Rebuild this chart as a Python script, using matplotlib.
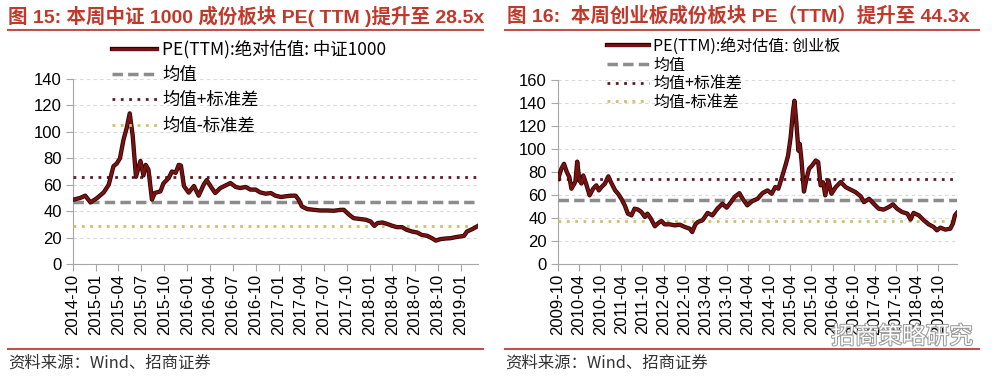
import matplotlib
matplotlib.use('Agg')
import matplotlib.pyplot as plt
import matplotlib.dates as mdates
import matplotlib.patheffects as pe
from matplotlib.lines import Line2D
import pandas as pd

plt.rcParams['font.family'] = ['Liberation Sans', 'Noto Sans CJK SC', 'DejaVu Sans']

# 中证1000 PE(TTM)
csi_dates = ['2014-10-03', '2014-10-30', '2014-11-19', '2014-12-10', '2015-01-06', '2015-02-01',
             '2015-02-21', '2015-03-12', '2015-03-25', '2015-04-07', '2015-04-21', '2015-05-04',
             '2015-05-16', '2015-05-28', '2015-06-10', '2015-06-28', '2015-07-10', '2015-07-19',
             '2015-07-30', '2015-08-13', '2015-08-25', '2015-09-16', '2015-09-28', '2015-10-19',
             '2015-11-01', '2015-11-16', '2015-11-28', '2015-12-07', '2015-12-19', '2016-01-07',
             '2016-01-28', '2016-02-16', '2016-03-07', '2016-03-19', '2016-04-04', '2016-04-22',
             '2016-05-13', '2016-06-01', '2016-06-22', '2016-07-13', '2016-08-01', '2016-08-22',
             '2016-09-10', '2016-10-01', '2016-10-19', '2016-11-10', '2016-12-01', '2016-12-19',
             '2017-01-10', '2017-01-28', '2017-02-19', '2017-03-10', '2017-03-22', '2017-04-04',
             '2017-04-25', '2017-05-22', '2017-06-16', '2017-07-13', '2017-08-10', '2017-09-07',
             '2017-09-19', '2017-10-10', '2017-10-28', '2017-11-25', '2017-12-16', '2018-01-04',
             '2018-01-19', '2018-02-01', '2018-02-21', '2018-03-10', '2018-04-01', '2018-04-19',
             '2018-05-10', '2018-05-28', '2018-06-19', '2018-07-10', '2018-07-28', '2018-08-19',
             '2018-09-07', '2018-09-22', '2018-10-10', '2018-11-01', '2018-11-19', '2018-12-10',
             '2018-12-28', '2019-01-13', '2019-01-25', '2019-02-15', '2019-03-07']
csi_pe = [48.7, 50.0, 51.7, 46.6, 50.0, 54.2,
          60.0, 74.0, 76.0, 80.0, 94.0, 103.0,
          114.0, 97.0, 66.0, 78.0, 67.0, 75.0,
          71.5, 48.7, 53.8, 55.0, 61.0, 65.0,
          70.0, 69.0, 75.0, 74.5, 59.0, 54.0,
          59.0, 51.7, 60.0, 63.5, 58.8, 53.7,
          57.5, 59.3, 61.3, 58.3, 57.5, 58.3,
          56.3, 56.3, 54.2, 53.2, 53.7, 51.7,
          50.7, 51.2, 51.7, 51.7, 48.7, 43.6,
          41.6, 41.0, 40.5, 40.5, 40.3, 41.0,
          41.0, 37.3, 34.7, 34.0, 33.5, 32.2,
          28.9, 31.0, 31.4, 30.4, 28.9, 27.9,
          27.9, 25.9, 24.6, 23.8, 22.0, 21.3,
          19.5, 17.7, 18.8, 19.3, 19.5, 20.3,
          20.8, 21.3, 24.6, 26.4, 28.5]
csi_mean, csi_up, csi_down = 46.6, 65.8, 28.4

# 创业板 PE(TTM)
gem_dates = ['2009-10-02', '2009-10-30', '2009-11-22', '2009-12-16', '2010-01-07', '2010-01-25',
             '2010-02-19', '2010-03-01', '2010-03-16', '2010-04-04', '2010-04-22', '2010-05-07',
             '2010-06-01', '2010-07-01', '2010-08-01', '2010-08-28', '2010-09-19', '2010-10-13',
             '2010-11-10', '2010-12-10', '2011-01-01', '2011-02-07', '2011-03-04', '2011-04-01',
             '2011-05-01', '2011-05-28', '2011-06-28', '2011-07-25', '2011-08-25', '2011-09-22',
             '2011-10-22', '2011-11-13', '2011-12-13', '2012-01-16', '2012-02-15', '2012-03-13',
             '2012-04-10', '2012-05-22', '2012-07-07', '2012-08-19', '2012-10-01', '2012-11-13',
             '2012-12-04', '2013-01-01', '2013-01-22', '2013-03-04', '2013-04-16', '2013-05-28',
             '2013-07-10', '2013-08-22', '2013-09-28', '2013-11-04', '2013-12-04', '2014-01-16',
             '2014-02-13', '2014-03-25', '2014-05-07', '2014-06-22', '2014-08-04', '2014-09-16',
             '2014-10-22', '2014-11-22', '2014-12-19', '2015-01-19', '2015-02-22', '2015-03-13',
             '2015-04-04', '2015-04-25', '2015-05-07', '2015-05-22', '2015-06-10', '2015-06-22',
             '2015-07-07', '2015-07-28', '2015-08-16', '2015-09-10', '2015-10-07', '2015-11-07',
             '2015-11-28', '2015-12-19', '2016-01-10', '2016-01-28', '2016-02-25', '2016-03-22',
             '2016-04-28', '2016-06-10', '2016-07-22', '2016-09-04', '2016-10-16', '2016-12-01',
             '2016-12-28', '2017-02-10', '2017-03-22', '2017-05-04', '2017-06-16', '2017-08-01',
             '2017-09-04', '2017-10-10', '2017-11-22', '2018-01-07', '2018-02-04', '2018-03-01',
             '2018-04-16', '2018-05-28', '2018-07-10', '2018-08-22', '2018-09-19', '2018-10-19',
             '2018-12-01', '2019-01-13', '2019-02-04', '2019-02-22', '2019-03-10']
gem_pe = [74.0, 82.8, 87.1, 80.0, 75.6, 65.5,
          69.8, 72.0, 89.0, 72.7, 70.0, 77.0,
          69.8, 59.7, 65.5, 68.4, 64.0, 67.0,
          69.8, 76.2, 71.3, 64.0, 61.1, 56.8,
          51.0, 43.8, 42.3, 48.1, 47.3, 45.2,
          40.9, 43.8, 39.4, 32.8, 35.6, 37.4,
          34.5, 34.5, 33.6, 34.2, 32.2, 30.7,
          27.8, 34.5, 36.5, 38.1, 44.4, 42.3,
          48.1, 52.4, 49.0, 53.8, 58.2, 61.6,
          56.7, 51.0, 54.7, 56.7, 61.6, 64.0,
          61.1, 66.9, 65.5, 75.6, 87.1, 94.3,
          110.2, 133.3, 142.0, 124.6, 98.6, 104.4,
          90.0, 63.0, 72.7, 82.8, 85.7, 90.0,
          88.6, 68.4, 71.0, 59.7, 72.7, 61.1,
          66.9, 71.3, 66.9, 64.6, 62.5, 58.7,
          53.8, 56.7, 52.4, 48.1, 47.3, 49.6,
          51.9, 48.1, 45.2, 43.8, 38.7, 44.4,
          42.3, 38.1, 34.5, 32.2, 29.3, 31.6,
          29.9, 30.7, 35.0, 42.3, 44.3]
gem_mean, gem_up, gem_down = 55.4, 74.2, 37.2

W, H = 1006, 383
fig = plt.figure(figsize=(W / 100, H / 100), dpi=100)
red = '#C0392B'
cjk = ['Noto Sans CJK SC', 'DejaVu Sans']


def draw(ax, dates, vals, mean, up, down, name, x0, x1, step, ymax, leg_anchor, leg_fs, leg_sp):
    x = pd.to_datetime(dates)
    ax.plot(x, vals, color='#7a1212', lw=1.9, zorder=5, label='PE(TTM):绝对估值: ' + name,
            path_effects=[pe.Stroke(linewidth=3.1, foreground='#2a0404'), pe.Normal()])
    ax.axhline(mean, color='#8c8c8c', lw=2.5, ls=(0, (3, 1.5)), label='均值', zorder=3)
    ax.axhline(up, color='#5a1a28', lw=2.0, ls=(0, (1, 2)), label='均值+标准差', zorder=3)
    ax.axhline(down, color='#c9c36a', lw=2.0, ls=(0, (1, 2)), label='均值-标准差', zorder=3)

    ax.set_xlim(pd.Timestamp(x0), pd.Timestamp(x1))
    ax.set_ylim(0, ymax)
    ax.set_yticks(range(0, ymax + 1, 20))
    ax.xaxis.set_major_locator(mdates.MonthLocator(bymonth=step))
    ax.xaxis.set_major_formatter(mdates.DateFormatter('%Y-%m'))
    ax.tick_params(axis='x', labelrotation=90, labelsize=12, length=5, color='#a6a6a6', pad=2)
    ax.tick_params(axis='y', labelsize=12, length=5, color='#a6a6a6', pad=3)
    for s in ('top', 'right'):
        ax.spines[s].set_visible(False)
    for s in ('left', 'bottom'):
        ax.spines[s].set_color('#a6a6a6')
    ax.yaxis.grid(True, color='#d9d9d9', ls=(0, (3, 3)), lw=0.8)
    ax.set_axisbelow(True)
    ax.legend(loc='upper left', bbox_to_anchor=leg_anchor, frameon=False,
              prop={'family': cjk, 'size': leg_fs}, labelspacing=leg_sp,
              handlelength=2.6, handletextpad=0.3, borderpad=0, borderaxespad=0)


ax1 = fig.add_axes([73 / W, 1 - 264 / H, 405 / W, 185 / H])
draw(ax1, csi_dates, csi_pe, csi_mean, csi_up, csi_down, '中证1000',
     '2014-10-01', '2019-03-10', [1, 4, 7, 10], 140, (0.096, 1.21), 12.5, 0.42)

ax2 = fig.add_axes([558 / W, 1 - 264 / H, 399 / W, 184 / H])
draw(ax2, gem_dates, gem_pe, gem_mean, gem_up, gem_down, '创业板',
     '2009-10-01', '2019-03-12', [4, 10], 160, (0.123, 1.228), 11.5, 0.1)

# titles, rules and source notes
fig.text(8 / W, 1 - 16 / H, '图 15: 本周中证 1000 成份板块 PE( TTM )提升至 28.5x',
         fontsize=14, fontweight='bold', color=red, va='center')
fig.text(507 / W, 1 - 16 / H, '图 16:  本周创业板成份板块 PE（TTM）提升至 44.3x',
         fontsize=14, fontweight='bold', color=red, va='center')
for a, b in ((8, 483), (505, 979)):
    fig.add_artist(Line2D([a / W, b / W], [1 - 30 / H] * 2, color='#C0504D', lw=1.5))
    fig.add_artist(Line2D([a / W, b / W], [1 - 349 / H] * 2, color='#C0504D', lw=1.5))
fig.text(8 / W, 1 - 363 / H, '资料来源：Wind、招商证券', fontsize=11.8, va='center',
         color='#333333', family=cjk)
fig.text(505 / W, 1 - 363 / H, '资料来源：Wind、招商证券', fontsize=11.8, va='center',
         color='#333333', family=cjk)
fig.text(973 / W, 1 - 337 / H, '招商策略研究', fontsize=17, va='center', ha='right',
         color='white', family=cjk,
         path_effects=[pe.Stroke(linewidth=1.5, foreground='#9a9a9a'), pe.Normal()])

fig.savefig('out.png', dpi=100)
